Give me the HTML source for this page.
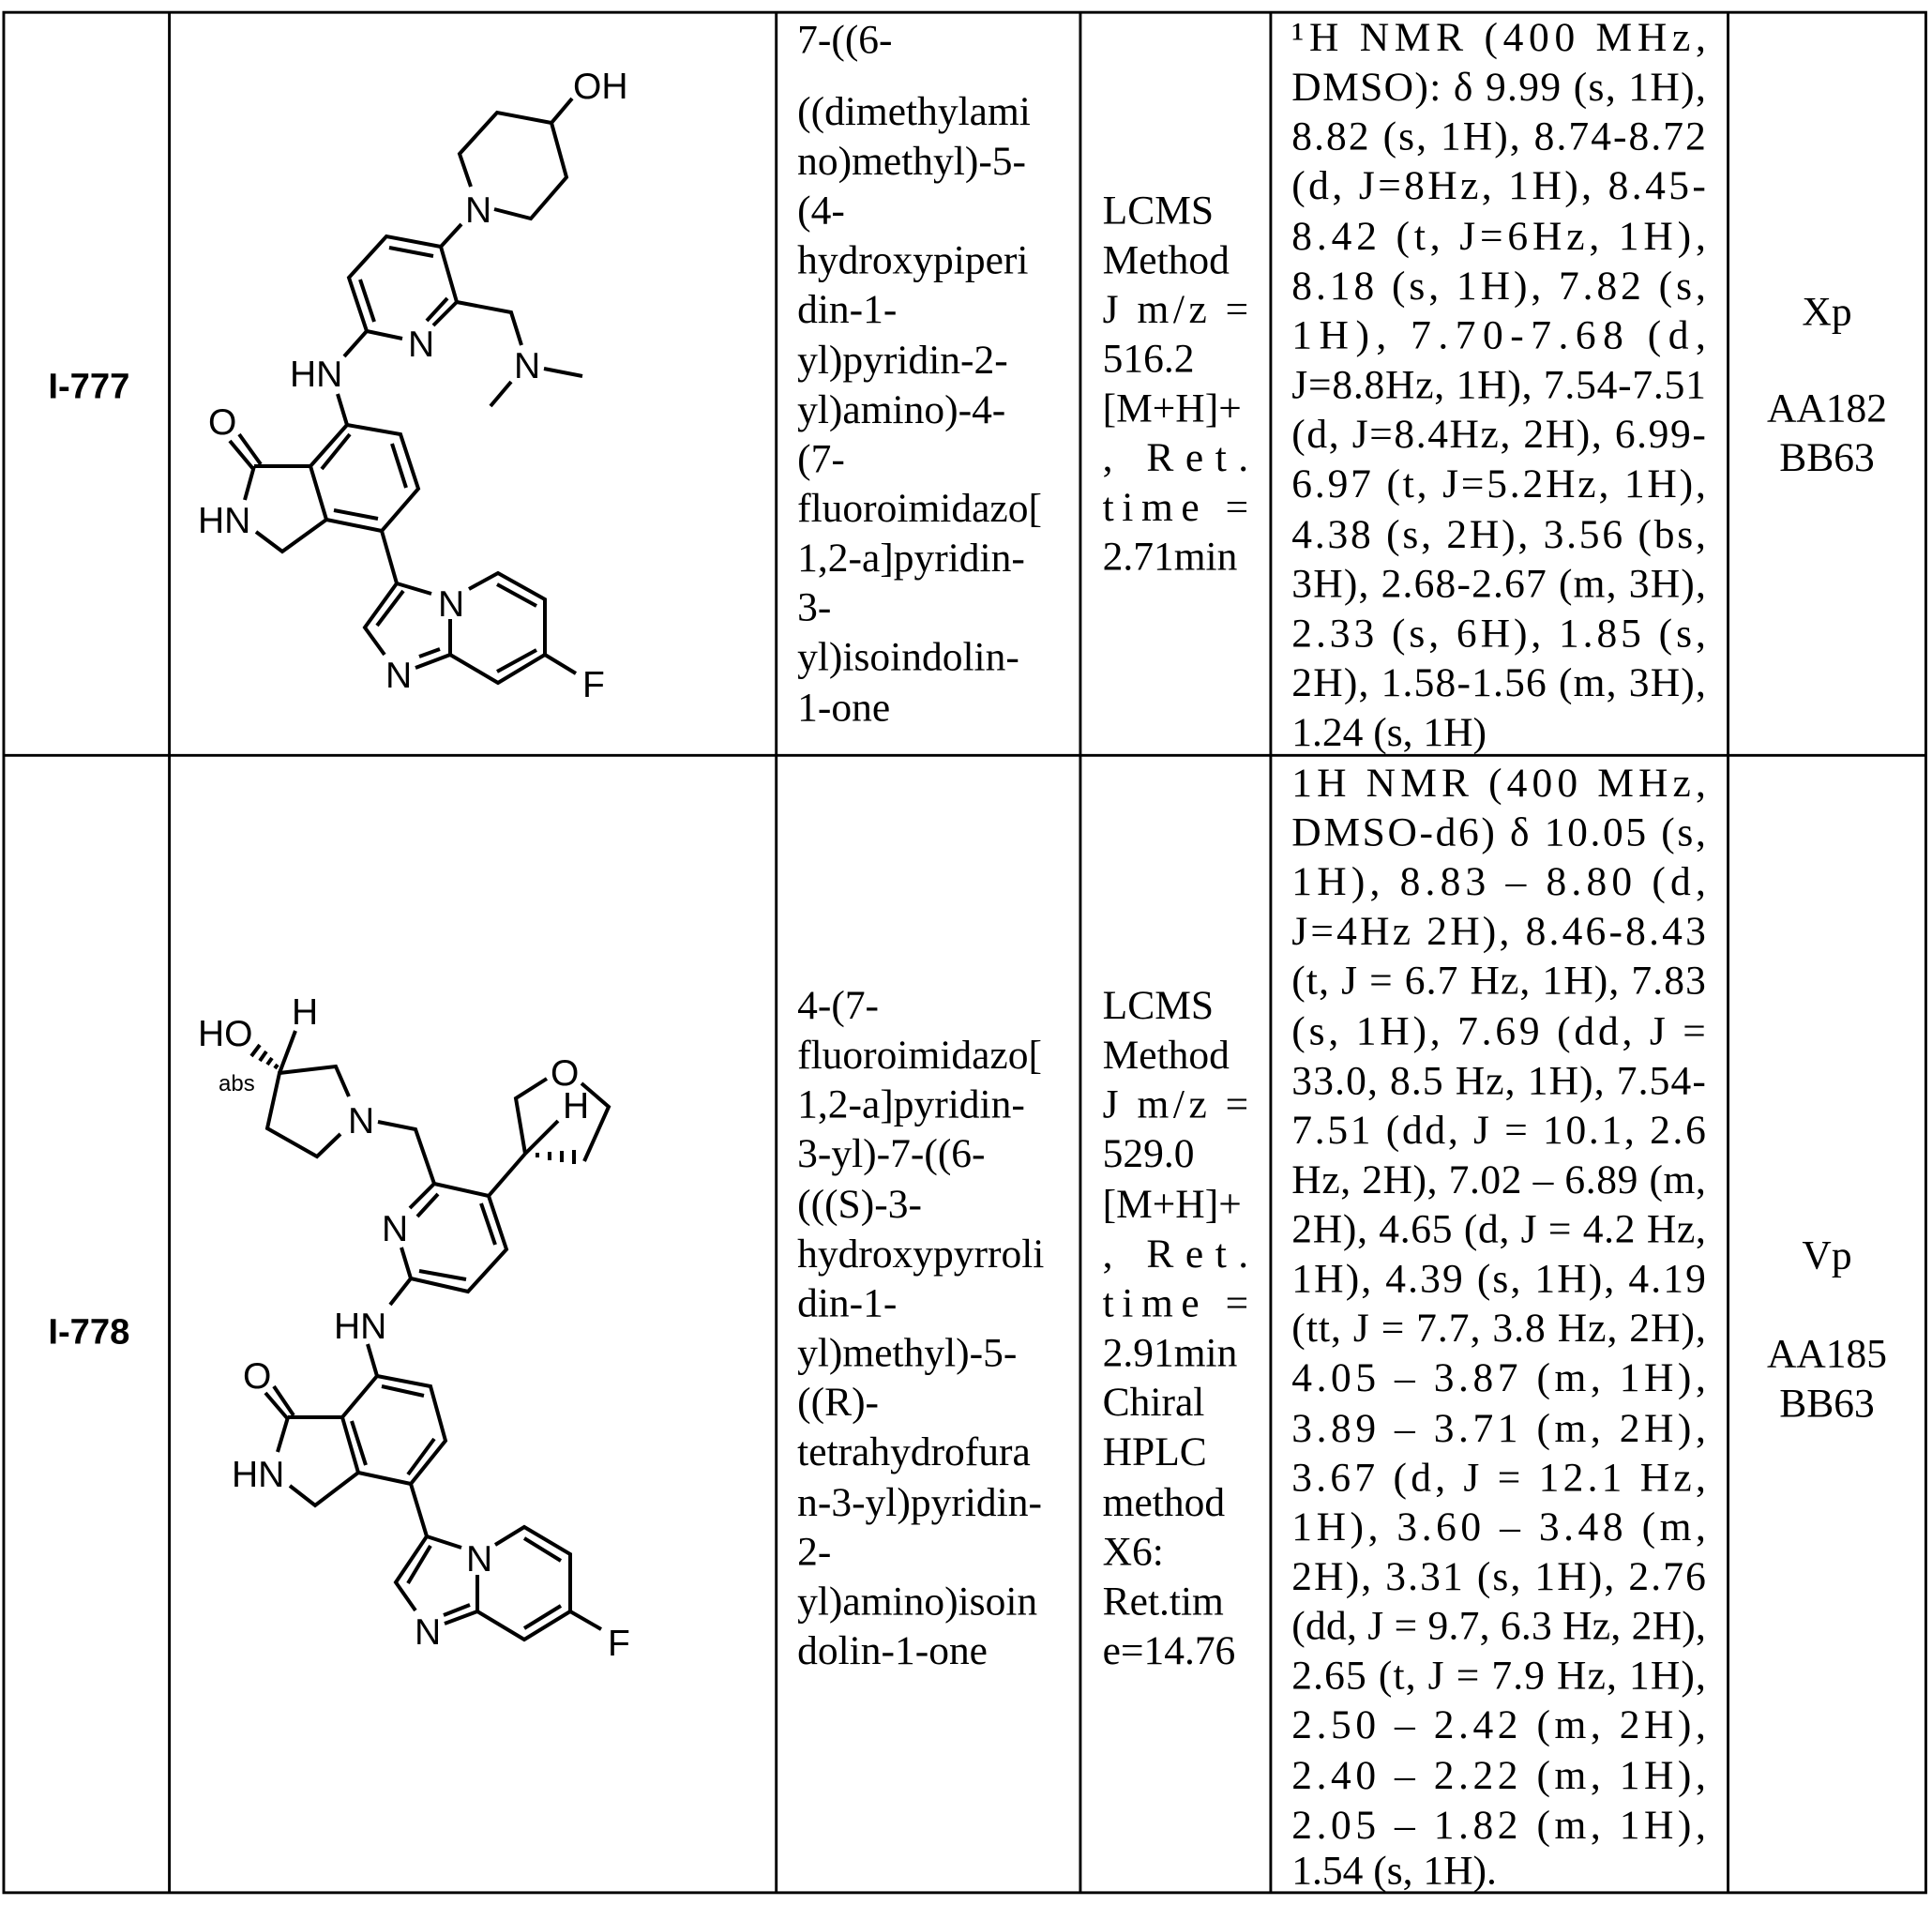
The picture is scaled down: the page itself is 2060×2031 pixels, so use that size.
<!DOCTYPE html>
<html><head><meta charset="utf-8"><style>
html,body{margin:0;padding:0;background:#fff;}
svg{display:block;}
.t{font-family:"Liberation Serif",serif;font-size:33px;fill:#000;}
.b{font-family:"Liberation Sans",sans-serif;font-size:29px;font-weight:bold;fill:#000;}
.a{font-family:"Liberation Sans",sans-serif;font-size:39px;fill:#000;}
.m line,.m polyline{stroke:#000;stroke-width:4;fill:none;stroke-linecap:butt;stroke-linejoin:miter;}
</style></head><body>
<svg width="2060" height="2031" viewBox="0 0 2060 2031" xmlns="http://www.w3.org/2000/svg">
<g transform="scale(1.318)">
<g stroke="#000" stroke-width="2.2" fill="none">
<rect x="3" y="10" width="1555" height="1521"/>
<line x1="3" y1="611" x2="1558" y2="611"/>
<line x1="137" y1="10" x2="137" y2="1531"/>
<line x1="628" y1="10" x2="628" y2="1531"/>
<line x1="874" y1="10" x2="874" y2="1531"/>
<line x1="1028" y1="10" x2="1028" y2="1531"/>
<line x1="1398" y1="10" x2="1398" y2="1531"/>
</g>
<text class="b" x="72" y="322" text-anchor="middle">I-777</text>
<text class="b" x="72" y="1087" text-anchor="middle">I-778</text>

<g class="t">
<text x="645" y="43">7-((6-</text>
<text x="645" y="101">((dimethylami</text>
<text x="645" y="141">no)methyl)-5-</text>
<text x="645" y="181">(4-</text>
<text x="645" y="221">hydroxypiperi</text>
<text x="645" y="261">din-1-</text>
<text x="645" y="302">yl)pyridin-2-</text>
<text x="645" y="342">yl)amino)-4-</text>
<text x="645" y="382">(7-</text>
<text x="645" y="422">fluoroimidazo[</text>
<text x="645" y="462">1,2-a]pyridin-</text>
<text x="645" y="502">3-</text>
<text x="645" y="542">yl)isoindolin-</text>
<text x="645" y="583">1-one</text>

<text x="892" y="181">LCMS</text>
<text x="892" y="221">Method</text>
<text x="892" y="261" textLength="118" lengthAdjust="spacing">J m/z =</text>
<text x="892" y="301">516.2</text>
<text x="892" y="341">[M+H]+</text>
<text x="892" y="381" textLength="118" lengthAdjust="spacing">, Ret.</text>
<text x="892" y="421" textLength="118" lengthAdjust="spacing">time =</text>
<text x="892" y="461">2.71min</text>

<g>
<text x="1045" y="41" textLength="335" lengthAdjust="spacing">¹H NMR (400 MHz,</text>
<text x="1045" y="81" textLength="335" lengthAdjust="spacing">DMSO): δ 9.99 (s, 1H),</text>
<text x="1045" y="121" textLength="335" lengthAdjust="spacing">8.82 (s, 1H), 8.74-8.72</text>
<text x="1045" y="161" textLength="335" lengthAdjust="spacing">(d, J=8Hz, 1H), 8.45-</text>
<text x="1045" y="202" textLength="335" lengthAdjust="spacing">8.42 (t, J=6Hz, 1H),</text>
<text x="1045" y="242" textLength="335" lengthAdjust="spacing">8.18 (s, 1H), 7.82 (s,</text>
<text x="1045" y="282" textLength="335" lengthAdjust="spacing">1H), 7.70-7.68 (d,</text>
<text x="1045" y="322" textLength="335" lengthAdjust="spacing">J=8.8Hz, 1H), 7.54-7.51</text>
<text x="1045" y="362" textLength="335" lengthAdjust="spacing">(d, J=8.4Hz, 2H), 6.99-</text>
<text x="1045" y="402" textLength="335" lengthAdjust="spacing">6.97 (t, J=5.2Hz, 1H),</text>
<text x="1045" y="443" textLength="335" lengthAdjust="spacing">4.38 (s, 2H), 3.56 (bs,</text>
<text x="1045" y="483" textLength="335" lengthAdjust="spacing">3H), 2.68-2.67 (m, 3H),</text>
<text x="1045" y="523" textLength="335" lengthAdjust="spacing">2.33 (s, 6H), 1.85 (s,</text>
<text x="1045" y="563" textLength="335" lengthAdjust="spacing">2H), 1.58-1.56 (m, 3H),</text>
<text x="1045" y="603">1.24 (s, 1H)</text>
</g>

<text x="1478" y="263" text-anchor="middle">Xp</text>
<text x="1478" y="341" text-anchor="middle">AA182</text>
<text x="1478" y="381" text-anchor="middle">BB63</text>

<text x="645" y="824">4-(7-</text>
<text x="645" y="864">fluoroimidazo[</text>
<text x="645" y="904">1,2-a]pyridin-</text>
<text x="645" y="944">3-yl)-7-((6-</text>
<text x="645" y="985">(((S)-3-</text>
<text x="645" y="1025">hydroxypyrroli</text>
<text x="645" y="1065">din-1-</text>
<text x="645" y="1105">yl)methyl)-5-</text>
<text x="645" y="1145">((R)-</text>
<text x="645" y="1185">tetrahydrofura</text>
<text x="645" y="1226">n-3-yl)pyridin-</text>
<text x="645" y="1266">2-</text>
<text x="645" y="1306">yl)amino)isoin</text>
<text x="645" y="1346">dolin-1-one</text>

<text x="892" y="824">LCMS</text>
<text x="892" y="864">Method</text>
<text x="892" y="904" textLength="118" lengthAdjust="spacing">J m/z =</text>
<text x="892" y="944">529.0</text>
<text x="892" y="985">[M+H]+</text>
<text x="892" y="1025" textLength="118" lengthAdjust="spacing">, Ret.</text>
<text x="892" y="1065" textLength="118" lengthAdjust="spacing">time =</text>
<text x="892" y="1105">2.91min</text>
<text x="892" y="1145">Chiral</text>
<text x="892" y="1185">HPLC</text>
<text x="892" y="1226">method</text>
<text x="892" y="1266">X6:</text>
<text x="892" y="1306">Ret.tim</text>
<text x="892" y="1346">e=14.76</text>

<g>
<text x="1045" y="644" textLength="335" lengthAdjust="spacing">1H NMR (400 MHz,</text>
<text x="1045" y="684" textLength="335" lengthAdjust="spacing">DMSO-d6) δ 10.05 (s,</text>
<text x="1045" y="724" textLength="335" lengthAdjust="spacing">1H), 8.83 – 8.80 (d,</text>
<text x="1045" y="764" textLength="335" lengthAdjust="spacing">J=4Hz 2H), 8.46-8.43</text>
<text x="1045" y="804" textLength="335" lengthAdjust="spacing">(t, J = 6.7 Hz, 1H), 7.83</text>
<text x="1045" y="845" textLength="335" lengthAdjust="spacing">(s, 1H), 7.69 (dd, J =</text>
<text x="1045" y="885" textLength="335" lengthAdjust="spacing">33.0, 8.5 Hz, 1H), 7.54-</text>
<text x="1045" y="925" textLength="335" lengthAdjust="spacing">7.51 (dd, J = 10.1, 2.6</text>
<text x="1045" y="965" textLength="335" lengthAdjust="spacing">Hz, 2H), 7.02 – 6.89 (m,</text>
<text x="1045" y="1005" textLength="335" lengthAdjust="spacing">2H), 4.65 (d, J = 4.2 Hz,</text>
<text x="1045" y="1045" textLength="335" lengthAdjust="spacing">1H), 4.39 (s, 1H), 4.19</text>
<text x="1045" y="1085" textLength="335" lengthAdjust="spacing">(tt, J = 7.7, 3.8 Hz, 2H),</text>
<text x="1045" y="1125" textLength="335" lengthAdjust="spacing">4.05 – 3.87 (m, 1H),</text>
<text x="1045" y="1166" textLength="335" lengthAdjust="spacing">3.89 – 3.71 (m, 2H),</text>
<text x="1045" y="1206" textLength="335" lengthAdjust="spacing">3.67 (d, J = 12.1 Hz,</text>
<text x="1045" y="1246" textLength="335" lengthAdjust="spacing">1H), 3.60 – 3.48 (m,</text>
<text x="1045" y="1286" textLength="335" lengthAdjust="spacing">2H), 3.31 (s, 1H), 2.76</text>
<text x="1045" y="1326" textLength="335" lengthAdjust="spacing">(dd, J = 9.7, 6.3 Hz, 2H),</text>
<text x="1045" y="1366" textLength="335" lengthAdjust="spacing">2.65 (t, J = 7.9 Hz, 1H),</text>
<text x="1045" y="1406" textLength="335" lengthAdjust="spacing">2.50 – 2.42 (m, 2H),</text>
<text x="1045" y="1447" textLength="335" lengthAdjust="spacing">2.40 – 2.22 (m, 1H),</text>
<text x="1045" y="1487" textLength="335" lengthAdjust="spacing">2.05 – 1.82 (m, 1H),</text>
<text x="1045" y="1524">1.54 (s, 1H).</text>
</g>

<text x="1478" y="1026" text-anchor="middle">Vp</text>
<text x="1478" y="1106" text-anchor="middle">AA185</text>
<text x="1478" y="1146" text-anchor="middle">BB63</text>
</g>
</g>

<!-- Molecule 1 -->
<g class="m">
<line x1="588" y1="131" x2="610" y2="105"/>
<polyline points="502,199 490,164 530,120 588,131 604,189 566,233 527,223"/>
<line x1="492" y1="239" x2="470" y2="263"/>
<polyline points="487,322 470,263 412,252 372,296 391,353 429,361"/>
<line x1="415" y1="264" x2="462" y2="273"/>
<line x1="384" y1="298" x2="399" y2="343"/>
<line x1="462" y1="347" x2="487" y2="322"/>
<line x1="455" y1="342" x2="477" y2="318"/>
<polyline points="487,322 545,333 556,368"/>
<line x1="580" y1="393" x2="621" y2="401"/>
<line x1="545" y1="407" x2="523" y2="433"/>
<line x1="391" y1="353" x2="367" y2="380"/>
<line x1="360" y1="420" x2="370" y2="453"/>
<polyline points="370,453 427,463 446,521 407,566 348,554 331,497 370,453"/>
<line x1="418" y1="473" x2="433" y2="520"/>
<line x1="356" y1="544" x2="403" y2="553"/>
<line x1="343" y1="500" x2="373" y2="463"/>
<line x1="331" y1="497" x2="271" y2="497"/>
<line x1="245" y1="470" x2="270" y2="500"/>
<line x1="255" y1="463" x2="278" y2="495"/>
<line x1="271" y1="497" x2="261" y2="533"/>
<polyline points="273,567 301,588 348,554"/>
<line x1="407" y1="566" x2="423" y2="622"/>
<line x1="423" y1="622" x2="460" y2="633"/>
<line x1="480" y1="660" x2="480" y2="698"/>
<polyline points="423,622 389,669 410,698"/>
<line x1="430" y1="630" x2="402" y2="667"/>
<line x1="443" y1="712" x2="480" y2="698"/>
<line x1="447" y1="700" x2="469" y2="692"/>
<polyline points="500,628 531,611 581,639 581,698 531,728 480,698"/>
<line x1="530" y1="623" x2="572" y2="646"/>
<line x1="530" y1="716" x2="572" y2="693"/>
<line x1="581" y1="698" x2="614" y2="718"/>
</g>
<g class="a">
<text x="611" y="105">OH</text>
<text x="496" y="237">N</text>
<text x="435" y="380">N</text>
<text x="548" y="403">N</text>
<text x="309" y="412">HN</text>
<text x="222" y="463">O</text>
<text x="211" y="568">HN</text>
<text x="467" y="657">N</text>
<text x="411" y="733">N</text>
<text x="621" y="743">F</text>
</g>

<!-- Molecule 2 -->
<g class="m">
<line x1="298" y1="1144" x2="315" y2="1099"/>
<g stroke-width="3">
<line x1="293" y1="1139" x2="296" y2="1135"/>
<line x1="285" y1="1135" x2="290" y2="1128"/>
<line x1="277" y1="1131" x2="284" y2="1121"/>
<line x1="268" y1="1126" x2="277" y2="1114"/>
</g>
<polyline points="372,1169 358,1137 298,1144 285,1203 338,1233 363,1209"/>
<polyline points="403,1196 443,1204 463,1262"/>
<polyline points="437,1288 463,1262 521,1275 540,1332 499,1377 438,1363 428,1330"/>
<line x1="445" y1="1297" x2="467" y2="1273"/>
<line x1="513" y1="1283" x2="528" y2="1327"/>
<line x1="447" y1="1355" x2="497" y2="1364"/>
<line x1="438" y1="1363" x2="416" y2="1391"/>
<line x1="521" y1="1275" x2="560" y2="1230"/>
<line x1="560" y1="1230" x2="595" y2="1195"/>
<polyline points="560,1230 550,1171 583,1150"/>
<polyline points="620,1155 649,1180 623,1238"/>
<g stroke-width="3">
<line x1="573" y1="1229" x2="573" y2="1234"/>
<line x1="586" y1="1228" x2="586" y2="1237"/>
<line x1="599" y1="1227" x2="599" y2="1239"/>
<line x1="612" y1="1226" x2="612" y2="1241"/>
</g>
<line x1="392" y1="1433" x2="402" y2="1467"/>
<polyline points="402,1467 459,1478 475,1536 438,1582 382,1570 365,1511 402,1467"/>
<line x1="407" y1="1478" x2="452" y2="1488"/>
<line x1="463" y1="1534" x2="435" y2="1572"/>
<line x1="375" y1="1515" x2="390" y2="1562"/>
<line x1="365" y1="1511" x2="307" y2="1511"/>
<line x1="283" y1="1485" x2="307" y2="1513"/>
<line x1="292" y1="1478" x2="313" y2="1509"/>
<line x1="307" y1="1511" x2="296" y2="1548"/>
<polyline points="309,1584 336,1605 382,1570"/>
<line x1="438" y1="1582" x2="455" y2="1638"/>
<line x1="455" y1="1638" x2="492" y2="1650"/>
<line x1="509" y1="1679" x2="509" y2="1718"/>
<polyline points="455,1638 422,1687 443,1717"/>
<line x1="459" y1="1648" x2="435" y2="1688"/>
<line x1="474" y1="1731" x2="509" y2="1718"/>
<line x1="473" y1="1722" x2="501" y2="1711"/>
<polyline points="528,1647 559,1628 608,1657 608,1718 559,1748 509,1718"/>
<line x1="559" y1="1640" x2="598" y2="1664"/>
<line x1="559" y1="1736" x2="598" y2="1712"/>
<line x1="608" y1="1718" x2="641" y2="1737"/>
</g>
<g class="a">
<text x="211" y="1115">HO</text>
<text x="311" y="1092">H</text>
<text x="233" y="1163" style="font-size:24px">abs</text>
<text x="371" y="1208">N</text>
<text x="407" y="1323">N</text>
<text x="356" y="1427">HN</text>
<text x="587" y="1157">O</text>
<text x="600" y="1192">H</text>
<text x="259" y="1480">O</text>
<text x="247" y="1585">HN</text>
<text x="497" y="1675">N</text>
<text x="442" y="1753">N</text>
<text x="648" y="1765">F</text>
</g>
</svg>
</body></html>
